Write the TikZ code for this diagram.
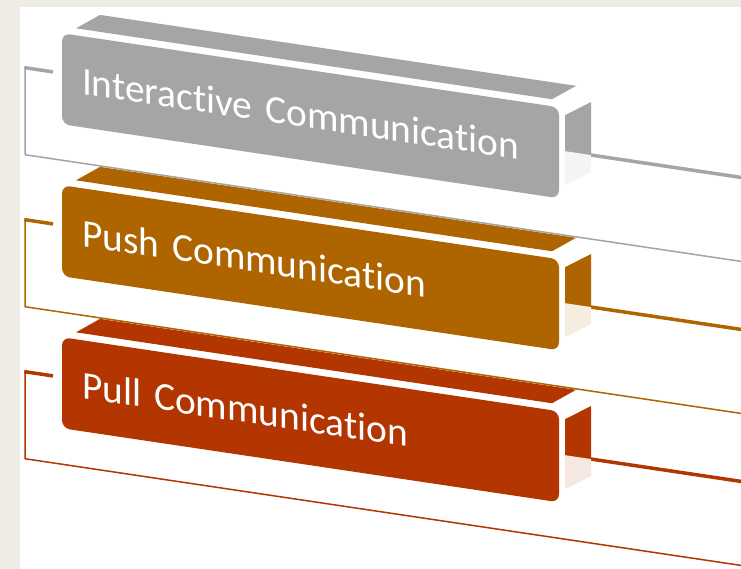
\documentclass[tikz,border=0pt]{standalone}
\usepackage{fontspec}
\setmainfont{Carlito}[Ligatures=NoCommon]
\definecolor{bgbeige}{RGB}{239,236,229}
\definecolor{interc}{RGB}{165,165,165}
\definecolor{pushc}{RGB}{174,101,0}
\definecolor{pullc}{RGB}{179,53,0}
\begin{document}
\begin{tikzpicture}[x=1pt, y=-1pt,
    face/.style={rectangle, rounded corners=8pt, inner xsep=20pt, inner ysep=0pt,
      text width=457pt, minimum height=91pt, align=left, text height=25pt, text depth=0pt,
      text=white, font=\fontsize{39.4}{44}\selectfont, transform shape},
    thinline/.style={line width=1.5pt},
    thickline/.style={line width=3.5pt}]
    \clip (0,0) rectangle (741,569);
    % Fundo
    \fill[bgbeige] (0,0) rectangle (741,569);
    \fill[white] (20,7) rectangle (741,569);

    \begin{scope}[yslant=-0.149]
    \foreach \dy/\col/\txt/\nm in {0/interc/Interactive Communication/inter,
        152/pushc/Push Communication/push, 304/pullc/Pull Communication/pull}{
        % Colchete
        \draw[\col, thinline] (25,64+\dy) -- (25,151+\dy) -- (741,151+\dy);
        \draw[\col, thickline] (24.25,64+\dy) -- (53,64+\dy);
        \draw[\col, thickline] (565,67+\dy) -- (741,67+\dy);
        % Caixa
        \fill[\col] (76,17+\dy) -- (552,17+\dy) -- (576,0+\dy) -- (100,0+\dy) -- cycle;
        \fill[\col] (565,31+\dy) -- (591,14+\dy) -- (591,67+\dy) -- (565,67+\dy) -- cycle;
        \fill[\col!12!white] (565,67+\dy) -- (591,67+\dy) -- (591,84+\dy) -- (565,101+\dy) -- cycle;
        \node[face, fill=\col] (\nm) at (310.5,69.5+\dy) {\txt};
    }
    \end{scope}
\end{tikzpicture}
\end{document}
